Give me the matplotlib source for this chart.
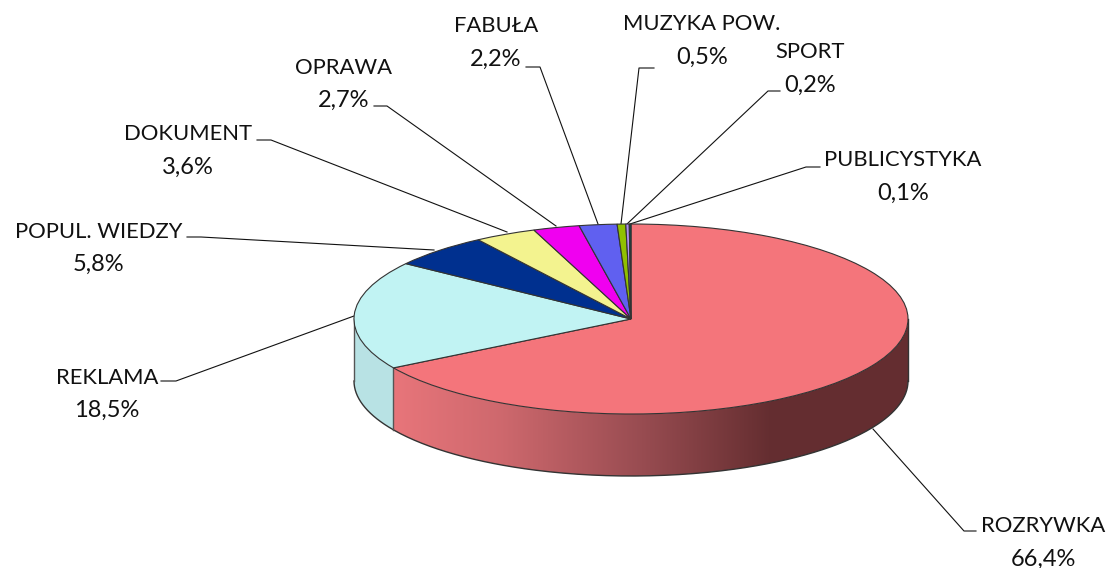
import matplotlib
matplotlib.use('Agg')
import matplotlib.pyplot as plt
import numpy as np
from matplotlib.patches import Polygon

# values from the picture, in percent
labels = ['ROZRYWKA', 'REKLAMA', 'POPUL. WIEDZY', 'DOKUMENT', 'OPRAWA', 'FABUŁA',
          'MUZYKA POW.', 'SPORT', 'PUBLICYSTYKA']
values = [66.4, 18.5, 5.8, 3.6, 2.7, 2.2, 0.5, 0.2, 0.1]
value_text = ['66,4%', '18,5%', '5,8%', '3,6%', '2,7%', '2,2%', '0,5%', '0,2%', '0,1%']
colors = ['#F4757B', '#C1F3F3', '#00308F', '#F3F38F', '#F000F0', '#6060F0', '#90C000', '#B090F0', '#005050']

# label centre position and leader line, in pixels of the 1110x568 picture
label_xy = [(1043, 541), (107, 392), (99, 246), (188, 149), (344, 82), (496, 41), (702, 39), (810, 67), (903, 175)]
leaders = [
    [(976, 531), (964, 531), (873, 429)],
    [(161, 381), (176, 381), (354, 316)],
    [(187, 237), (201, 237), (434, 250)],
    [(257, 140), (271, 140), (507, 232)],
    [(374, 106), (387, 106), (556, 226)],
    [(526, 67), (540, 67), (598, 224)],
    [(654, 68), (639, 68), (621, 224)],
    [(780, 91), (768, 91), (627, 224)],
    [(820, 167), (806, 167), (630, 224)],
]

W, H = 1110, 568
cx, cy, rx, ry, depth = 631, 319, 277, 95, 62

fig = plt.figure(figsize=(W / 100, H / 100), dpi=100)
bg = fig.add_axes([0, 0, 1, 1])
bg.set_xlim(0, W)
bg.set_ylim(H, 0)
bg.axis('off')


def wall(a0, a1):
    t = np.linspace(a0, a1, 150)
    x = cx + rx * np.cos(t)
    y = cy - ry * np.sin(t)
    return np.r_[x, x[::-1]], np.r_[y, y[::-1] + depth]


# the wall of the first slice starts where its wedge ends, clockwise from the top
side_left = np.radians(90 - 3.6 * values[0]) + 2 * np.pi

# light blue wall
xs, ys = wall(np.pi, side_left)
bg.add_patch(Polygon(np.c_[xs, ys], closed=True, fc='#B8E2E4', ec='none', zorder=1))

# red wall, gradient runs left to right and stays flat after the dark end
xs, ys = wall(side_left, 2 * np.pi)
clip = Polygon(np.c_[xs, ys], closed=True, fc='none', ec='none', zorder=1)
bg.add_patch(clip)
gx = np.linspace(xs.min(), xs.max(), 600)
stops_x = [393, 500, 640, 770, 908]
stops_r = [0.91, 0.81, 0.60, 0.395, 0.395]
stops_g = [0.46, 0.41, 0.30, 0.18, 0.18]
stops_b = [0.48, 0.43, 0.32, 0.19, 0.19]
grad = np.dstack([np.interp(gx, stops_x, stops_r),
                  np.interp(gx, stops_x, stops_g),
                  np.interp(gx, stops_x, stops_b)])
im = bg.imshow(grad, extent=[xs.min(), xs.max(), cy + ry + depth, cy - ry], aspect='auto', zorder=1)
im.set_clip_path(clip)
bg.set_xlim(0, W)
bg.set_ylim(H, 0)

# outline of the side
t = np.linspace(np.pi, 2 * np.pi, 300)
bg.plot(cx + rx * np.cos(t), cy - ry * np.sin(t) + depth, color='#333333', lw=1.0, zorder=2)
bg.plot([cx - rx, cx - rx], [cy, cy + depth], color='#555555', lw=1.0, zorder=2)
bg.plot([cx + rx, cx + rx], [cy, cy + depth], color='#333333', lw=1.0, zorder=2)
sx = cx + rx * np.cos(side_left)
sy = cy - ry * np.sin(side_left)
bg.plot([sx, sx], [sy, sy + depth], color='#555555', lw=1.0, zorder=2)

# top of the pie: ax.pie in an axes stretched to an ellipse
ax = fig.add_axes([(cx - rx) / W, 1 - (cy + ry) / H, 2 * rx / W, 2 * ry / H])
ax.pie(values, colors=colors, startangle=90, counterclock=False, radius=1,
       wedgeprops={'edgecolor': '#333333', 'linewidth': 0.8})
ax.set_aspect('auto')
ax.set_xlim(-1, 1)
ax.set_ylim(-1, 1)
ax.patch.set_alpha(0)
for spine in ax.spines.values():
    spine.set_visible(False)
for p in ax.patches:
    p.set_clip_on(False)

for name, val, xy, line in zip(labels, value_text, label_xy, leaders):
    bg.text(xy[0], xy[1] - 8.5, name, ha='center', va='baseline', fontsize=15.8,
            family='Lato', color='#111111', zorder=5)
    bg.text(xy[0], xy[1] + 24.5, val, ha='center', va='baseline', fontsize=17,
            family='Lato', color='#111111', zorder=5)
    bg.plot([p[0] for p in line], [p[1] for p in line], color='#111111', lw=0.8, zorder=0)

fig.savefig('out.png', dpi=100)
